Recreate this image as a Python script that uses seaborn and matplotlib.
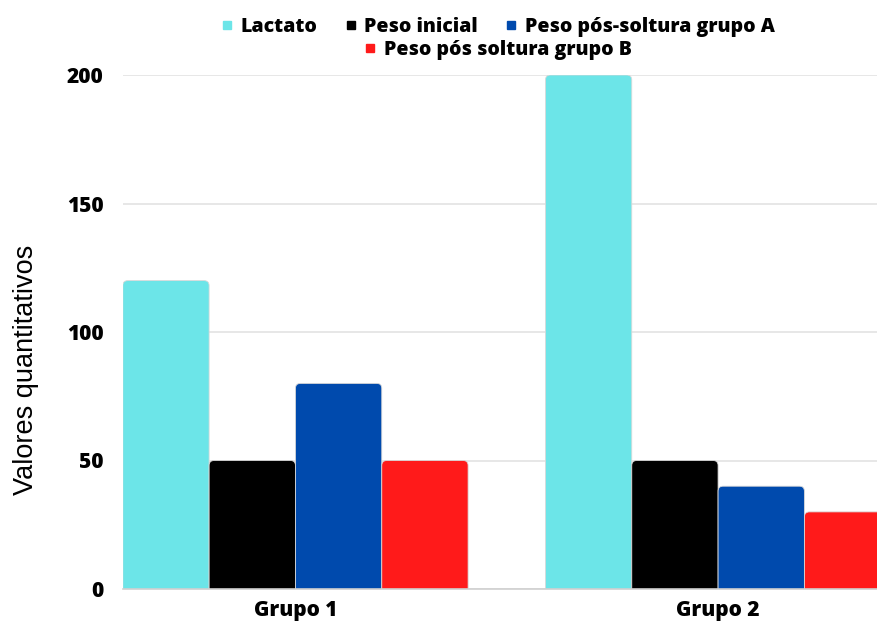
import matplotlib
matplotlib.use("Agg")
import matplotlib.pyplot as plt
from matplotlib.patches import FancyBboxPatch
from matplotlib.lines import Line2D
import seaborn as sns
import pandas as pd

# Data
grupos = ["Grupo 1", "Grupo 2"]
series = ["Lactato", "Peso inicial", "Peso pós-soltura grupo A", "Peso pós soltura grupo B"]
lactato = [120, 200]
peso_inicial = [50, 50]
peso_pos_a = [80, 40]
peso_pos_b = [50, 30]
cores = ["#6ce5e8", "#000000", "#004aad", "#ff1a1a"]
y_ticks = [0, 50, 100, 150, 200]

valores = [lactato, peso_inicial, peso_pos_a, peso_pos_b]
df = pd.DataFrame(
    [(g, s, v[i]) for s, v in zip(series, valores) for i, g in enumerate(grupos)],
    columns=["grupo", "serie", "valor"],
)

sns.set_theme(style="white")
plt.rcParams["font.family"] = ["Open Sans", "DejaVu Sans"]
plt.rcParams["text.color"] = "black"

W, H = 877, 623
fig = plt.figure(figsize=(W / 100, H / 100), dpi=100)
ax = fig.add_axes([123 / W, (H - 589) / H, 1 - 123 / W, 514 / H])

sns.barplot(
    data=df, x="grupo", y="valor", hue="serie", order=grupos, hue_order=series,
    palette=cores, width=0.817, ax=ax, legend=False, saturation=1,
    edgecolor="#d9d9d9", linewidth=0.6,
)

x_left, x_right = -0.408, 1.376
y_top = 200
ax.set_xlim(x_left, x_right)
ax.set_ylim(0, y_top)

# Replace the plain rectangles with bars that have softly rounded tops
px_per_x = ax.bbox.width / (x_right - x_left)
px_per_y = ax.bbox.height / y_top
radius_px = 5
rx = radius_px / px_per_x
aspect = (radius_px / px_per_y) / rx
for p in list(ax.patches):
    x, y0 = p.get_x(), p.get_y()
    w, h = p.get_width(), p.get_height()
    fc = p.get_facecolor()
    p.remove()
    ext = radius_px / px_per_y
    bar = FancyBboxPatch(
        (x, y0 - ext), w, h + ext,
        boxstyle=f"round,pad=0,rounding_size={rx}",
        mutation_aspect=aspect,
        facecolor=fc, edgecolor="#d9d9d9", linewidth=0.6, zorder=3,
    )
    ax.add_patch(bar)

ax.set_yticks(y_ticks)
ax.yaxis.grid(True, color="#e3e3e3", linewidth=1.2, zorder=0)
ax.xaxis.grid(False)
ax.set_axisbelow(True)
for side in ["top", "right", "left"]:
    ax.spines[side].set_visible(False)
ax.spines["bottom"].set_color("#d0d0d0")
ax.spines["bottom"].set_linewidth(1.2)
ax.spines["bottom"].set_zorder(4)
ax.tick_params(axis="both", length=0)
ax.tick_params(axis="y", pad=14)
ax.tick_params(axis="x", pad=8)
for lab in ax.get_yticklabels() + ax.get_xticklabels():
    lab.set_fontweight(800)
    lab.set_fontsize(15)
    lab.set_color("black")

ax.set_xlabel("")
ax.set_ylabel("")
fig.text(26 / W, 1 - 370 / H, "Valores quantitativos", rotation=90,
         ha="center", va="center", fontsize=19.5,
         family=["Liberation Sans", "DejaVu Sans"], color="black")

# Legend: three entries on the first row, one centred below
def handle(c):
    return Line2D([], [], marker="s", linestyle="none", markersize=6,
                  markerfacecolor=c, markeredgecolor=c)

leg_font = {"weight": 800, "size": 14}
leg1 = fig.legend(
    [handle(c) for c in cores[:3]], series[:3], loc="center",
    bbox_to_anchor=(497 / W, 1 - 27 / H), ncol=3, frameon=False, prop=leg_font,
    handletextpad=0.3, columnspacing=1.3, handlelength=0.8, labelcolor="black",
)
leg2 = fig.legend(
    [handle(cores[3])], series[3:], loc="center",
    bbox_to_anchor=(497 / W, 1 - 50 / H), ncol=1, frameon=False, prop=leg_font,
    handletextpad=0.3, handlelength=0.8, labelcolor="black",
)

fig.savefig("out.png", dpi=100, facecolor="white")
